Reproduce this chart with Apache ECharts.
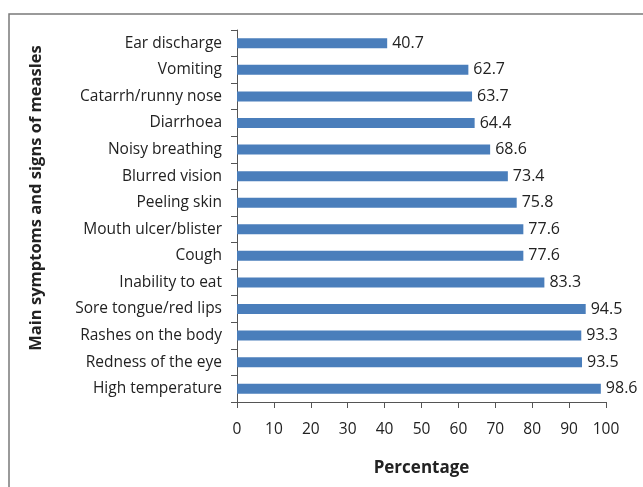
<!DOCTYPE html>
<html>
<head>
<meta charset="utf-8">
<script src="https://cdn.jsdelivr.net/npm/echarts@6/dist/echarts.min.js"></script>
<style>
  html, body { margin: 0; padding: 0; background: #fff; }
  #main { width: 643px; height: 487px; }
</style>
</head>
<body>
<div id="main"></div>
<script>
var symptoms = [
  'Ear discharge', 'Vomiting', 'Catarrh/runny nose', 'Diarrhoea', 'Noisy breathing',
  'Blurred vision', 'Peeling skin', 'Mouth ulcer/blister', 'Cough', 'Inability to eat',
  'Sore tongue/red lips', 'Rashes on the body', 'Redness of the eye', 'High temperature'
];
var percentages = [40.7, 62.7, 63.7, 64.4, 68.6, 73.4, 75.8, 77.6, 77.6, 83.3, 94.5, 93.3, 93.5, 98.6];

var chart = echarts.init(document.getElementById('main'), null, { renderer: 'canvas' });

var font = '"Open Sans", "Noto Sans", sans-serif';

var option = {
  animation: false,
  graphic: [{
    type: 'polyline',
    shape: { points: [[9, 490], [9, 14], [650, 14]] },
    style: { stroke: '#7a7a7a', lineWidth: 1.5, fill: null }
  }],
  grid: { left: 237, right: 37, top: 30, bottom: 85 },
  xAxis: {
    type: 'value',
    min: 0,
    max: 100,
    interval: 10,
    name: 'Percentage',
    nameLocation: 'middle',
    nameGap: 58,
    nameTextStyle: { fontFamily: font, fontWeight: 'bold', fontSize: 17, color: '#222' },
    axisLine: { show: true, lineStyle: { color: '#555', width: 1 } },
    axisTick: { show: true, length: 6, lineStyle: { color: '#555' } },
    axisLabel: { fontFamily: font, fontSize: 15.5, color: '#222', margin: 20 },
    splitLine: { show: false }
  },
  yAxis: {
    type: 'category',
    data: symptoms,
    inverse: true,
    name: 'Main symptoms and signs of measles',
    nameLocation: 'middle',
    nameGap: 192,
    nameRotate: 90,
    nameTextStyle: { fontFamily: font, fontWeight: 'bold', fontSize: 16.5, color: '#222', padding: [0, 0, 0, 36] },
    axisLine: { show: true, lineStyle: { color: '#555', width: 1 } },
    axisTick: { show: true, length: 6, alignWithLabel: false, lineStyle: { color: '#555' } },
    axisLabel: { fontFamily: font, fontSize: 15.5, color: '#222', margin: 15 }
  },
  series: [{
    type: 'bar',
    data: percentages,
    barWidth: 10,
    itemStyle: { color: '#4a7ebb' },
    label: {
      show: true,
      position: 'right',
      distance: 5,
      fontFamily: font,
      fontSize: 16,
      color: '#222'
    }
  }]
};

chart.setOption(option);
</script>
</body>
</html>
